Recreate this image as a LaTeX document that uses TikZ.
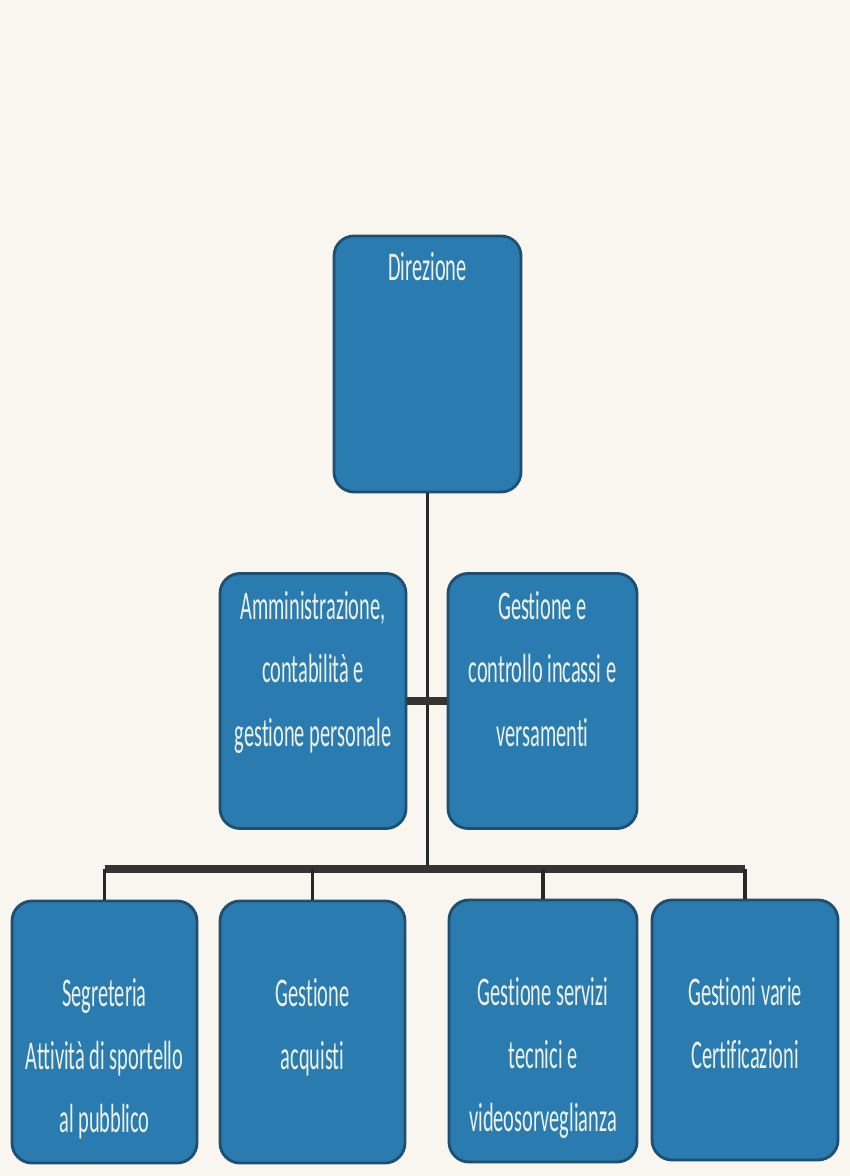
\documentclass[tikz,border=0pt]{standalone}
\usepackage{fontspec}
\setmainfont{Carlito}[Ligatures = NoCommon]
\definecolor{carta}{HTML}{F8F6EE}
\definecolor{blu}{HTML}{2A7BAF}
\definecolor{bordo}{HTML}{1E4E70}
\definecolor{testo}{HTML}{EEF2E6}
\begin{document}
\begin{tikzpicture}[color = {black},scale = 1,
   ufficio/.style = {draw = bordo, line width = 0.8pt, fill = blu, rounded corners = 0.2cm, inner sep = 0pt, minimum width = 1.86cm},
   scritta/.style = {text = testo, font = \fontsize{5.8}{9}\selectfont, align = center, anchor = north, inner sep = 0pt, yscale = 2, transform shape},
   linea/.style = {draw = black!85, line width = 1.1pt},
   barra/.style = {draw = black!80, line width = 2.2pt}]
   \fill[carta] (0,0) rectangle (8.5,11.76);
   \useasboundingbox (0,0) rectangle (8.5,11.76);
   % caselle
   \node[ufficio, minimum width = 1.87cm, minimum height = 2.56cm] at (4.275,8.12) (dir) {};
   \node[ufficio, minimum height = 2.55cm] at (3.13,4.75) (adm) {};
   \node[ufficio, minimum width = 1.89cm, minimum height = 2.55cm] at (5.425,4.75) (inc) {};
   \node[ufficio, minimum width = 1.85cm, minimum height = 2.62cm] at (1.045,1.44) (seg) {};
   \node[ufficio, minimum width = 1.85cm, minimum height = 2.62cm] at (3.125,1.44) (acq) {};
   \node[ufficio, minimum width = 1.88cm, minimum height = 2.62cm] at (5.43,1.45) (ser) {};
   \node[ufficio, minimum height = 2.6cm] at (7.45,1.46) (cer) {};
   % scritte
   \node[scritta] at ([yshift = -0.16cm]dir.north) (tdir) {Direzione};
   \node[scritta] at ([yshift = -0.18cm]adm.north) (tadm) {Amministrazione,\\contabilità e\\gestione personale};
   \node[scritta] at ([yshift = -0.18cm]inc.north) (tinc) {Gestione e\\controllo incassi e\\versamenti};
   \node[scritta] at ([yshift = -0.77cm]seg.north) (tseg) {Segreteria\\Attività di sportello\\al pubblico};
   \node[scritta] at ([yshift = -0.77cm]acq.north) (tacq) {Gestione\\acquisti};
   \node[scritta] at ([yshift = -0.77cm]ser.north) (tser) {Gestione servizi\\tecnici e\\videosorveglianza};
   \node[scritta] at ([yshift = -0.77cm]cer.north) (tcer) {Gestioni varie\\Certificazioni};
   % collegamenti
   \coordinate (snodo) at (4.28,3.07);
   \draw[linea] (dir.south) -- (dir.south |- snodo);
   \draw[barra] (adm.east) -- (inc.west);
   \draw[barra] (seg.north |- snodo) -- (cer.north |- snodo);
   \foreach \b in {seg,acq,ser,cer}
      \draw[linea] (\b.north) -- (\b.north |- snodo);
\end{tikzpicture}
\end{document}
